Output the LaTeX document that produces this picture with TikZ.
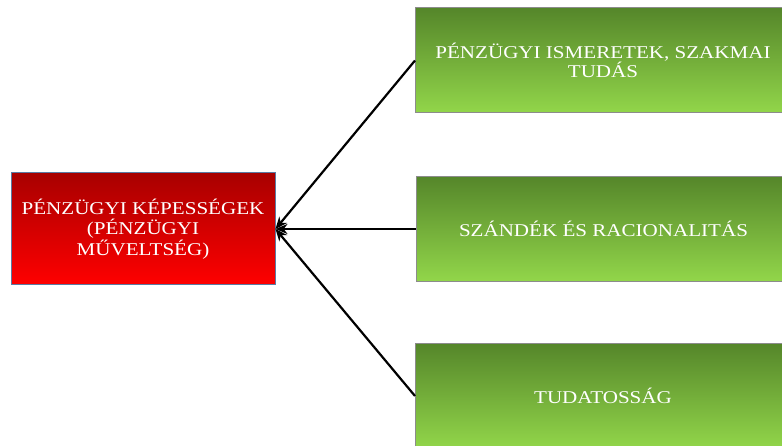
\documentclass[tikz,border=0pt]{standalone}
\usepackage{fontspec}
\setmainfont{Liberation Serif}
\newfontfamily\boxfont[FakeStretch=1.17]{Liberation Serif}
\usetikzlibrary{arrows.meta}
\definecolor{gtop}{HTML}{55862A}
\definecolor{gbot}{HTML}{92D64A}
\definecolor{rtop}{HTML}{A80000}
\definecolor{rbot}{HTML}{FF0000}
\definecolor{rborder}{HTML}{5B7BA3}
\definecolor{gborder}{HTML}{8C8C8C}
\tikzset{
  greenbox/.style={draw=gborder, line width=1pt, top color=gtop, bottom color=gbot,
    minimum width=375pt, minimum height=105pt, inner sep=0pt, align=center,
    text=white, font=\boxfont\fontsize{18pt}{19pt}\selectfont},
  redbox/.style={draw=rborder, line width=1pt, top color=rtop, bottom color=rbot,
    minimum width=264pt, minimum height=112pt, inner sep=0pt, align=center,
    text=white, font=\boxfont\fontsize{18pt}{20.5pt}\selectfont},
  conn/.style={draw=black, line width=2.2pt, -{Stealth[length=12pt,width=10pt]}}
}
\begin{document}
\begin{tikzpicture}[x=1pt,y=1pt]
\useasboundingbox (0,0) rectangle (782,445);
\clip (0,0) rectangle (782,445);
\fill[white] (0,0) rectangle (782,445);
\node[redbox] (red) at (143,216) {PÉNZÜGYI KÉPESSÉGEK\\(PÉNZÜGYI\\MŰVELTSÉG)};
\node[greenbox] (g1) at (603,384.5) {PÉNZÜGYI ISMERETEK, SZAKMAI\\TUDÁS};
\node[greenbox] (g2) at (603.5,216) {SZÁNDÉK ÉS RACIONALITÁS};
\node[greenbox] (g3) at (603,49) {TUDATOSSÁG};
\draw[conn] (g1.west) -- (red.east);
\draw[conn] (g2.west) -- (red.east);
\draw[conn] (g3.west) -- (red.east);
\end{tikzpicture}
\end{document}
